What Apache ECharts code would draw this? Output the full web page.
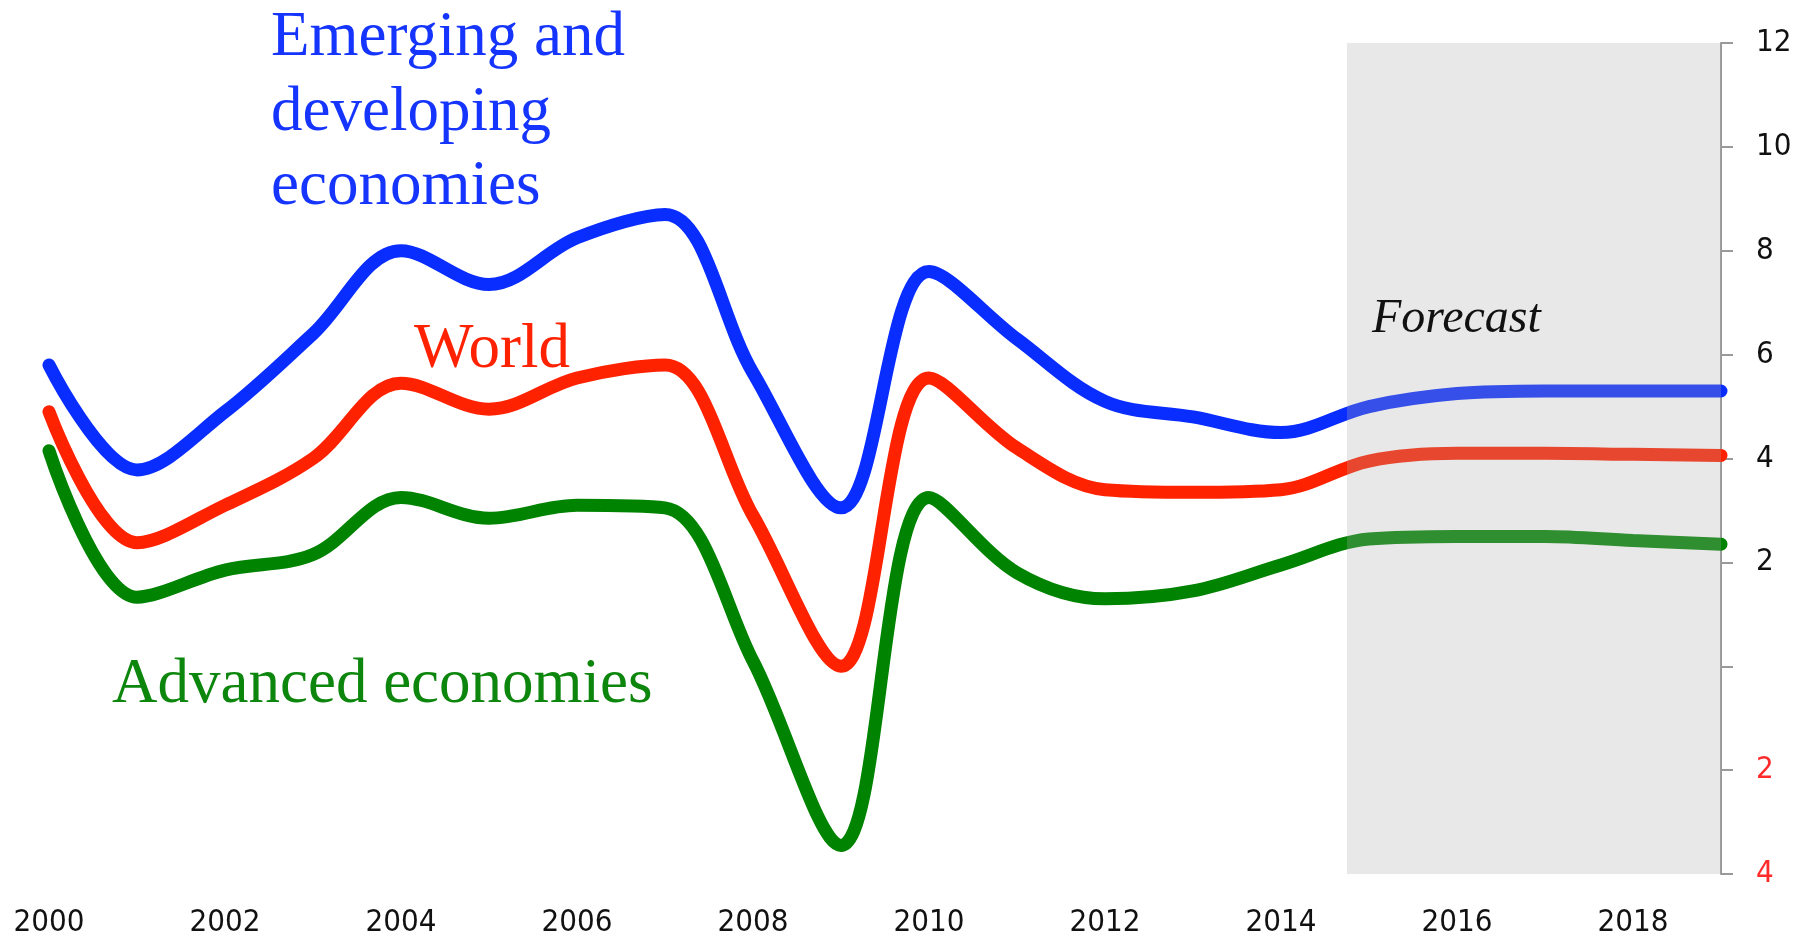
<!DOCTYPE html>
<html>
<head>
<meta charset="utf-8">
<script src="https://cdn.jsdelivr.net/npm/echarts@6/dist/echarts.min.js"></script>
<style>
  html, body { margin: 0; padding: 0; background: #fff; }
  #chart { width: 1808px; height: 942px; }
</style>
</head>
<body>
<div id="chart"></div>
<script>
// growth rates, %
const years = [2000, 2001, 2002, 2003, 2004, 2005, 2006, 2007, 2008, 2009,
               2010, 2011, 2012, 2013, 2014, 2015, 2016, 2017, 2018, 2019];
const emerging = [5.8, 3.78, 4.9, 6.4, 8.0, 7.35, 8.25, 8.7, 5.65, 3.05,
                  7.6, 6.3, 5.1, 4.8, 4.5, 5.0, 5.25, 5.3, 5.3, 5.3];
const world = [4.9, 2.38, 3.1, 4.0, 5.45, 4.95, 5.55, 5.8, 2.9, 0.0,
               5.55, 4.2, 3.4, 3.35, 3.4, 3.95, 4.1, 4.1, 4.08, 4.06];
const advanced = [4.15, 1.33, 1.85, 2.15, 3.25, 2.85, 3.1, 3.05, 0.1, -3.45,
                  3.25, 1.8, 1.3, 1.45, 1.95, 2.45, 2.5, 2.5, 2.42, 2.35];
const forecastStart = 2014.75;
const forecastEnd = 2019;

const sansNarrow = '"Liberation Sans Narrow", "DejaVu Sans Condensed", sans-serif';
const serif = '"Liberation Serif", "Times New Roman", serif';

function pairs(vals) {
  return years.map((y, i) => [y, vals[i]]);
}

function lineSeries(name, vals, color) {
  return {
    name: name,
    type: 'line',
    smooth: 0.35,
    showSymbol: false,
    z: 2,
    lineStyle: { color: color, width: 13, cap: 'round' },
    data: pairs(vals)
  };
}

const myChart = echarts.init(document.getElementById('chart'));

const option = {
  backgroundColor: '#fff',
  animation: false,
  grid: { left: 49, right: 87, top: 43, bottom: 68 },
  xAxis: {
    type: 'value',
    min: 2000,
    max: 2019,
    interval: 2,
    axisLine: { show: false },
    axisTick: { show: false },
    splitLine: { show: false },
    axisLabel: {
      margin: 33,
      color: '#111',
      fontFamily: sansNarrow,
      fontSize: 31,
      formatter: v => (v % 2 === 0 ? String(v) : '')
    }
  },
  yAxis: {
    type: 'value',
    position: 'right',
    min: -4,
    max: 12,
    interval: 2,
    splitLine: { show: false },
    axisLine: { show: true, lineStyle: { color: '#999', width: 2 } },
    axisTick: { show: true, length: 12, lineStyle: { color: '#999', width: 2 } },
    axisLabel: {
      margin: 35,
      fontFamily: sansNarrow,
      fontSize: 31,
      color: v => (v < 0 ? '#ff2a2a' : '#111'),
      formatter: v => (v === 0 ? '' : String(Math.abs(v)))
    }
  },
  series: [
    lineSeries('Emerging and developing economies', emerging, '#0a2dff'),
    lineSeries('World', world, '#ff2200'),
    lineSeries('Advanced economies', advanced, '#008300'),
    {
      // forecast shading, drawn over the lines
      type: 'line',
      data: [],
      z: 10,
      markArea: {
        silent: true,
        z: 10,
        itemStyle: { color: 'rgba(171,171,171,0.275)' },
        data: [[{ xAxis: forecastStart, yAxis: -4 }, { xAxis: forecastEnd, yAxis: 12 }]]
      }
    }
  ],
  graphic: [
    { type: 'text', z: 100, x: 271, y: 38,
      style: { text: 'Emerging and', font: '63px ' + serif, fill: '#1535ff', verticalAlign: 'middle' } },
    { type: 'text', z: 100, x: 271, y: 113,
      style: { text: 'developing', font: '63px ' + serif, fill: '#1535ff', verticalAlign: 'middle' } },
    { type: 'text', z: 100, x: 271, y: 187,
      style: { text: 'economies', font: '63px ' + serif, fill: '#1535ff', verticalAlign: 'middle' } },
    { type: 'text', z: 100, x: 414, y: 350,
      style: { text: 'World', font: '63px ' + serif, fill: '#ff2200', verticalAlign: 'middle' } },
    { type: 'text', z: 100, x: 112, y: 685,
      style: { text: 'Advanced economies', font: '63px ' + serif, fill: '#0d860d', verticalAlign: 'middle' } },
    { type: 'text', z: 100, x: 1372, y: 319,
      style: { text: 'Forecast', font: 'italic 48px ' + serif, fill: '#111', verticalAlign: 'middle' } }
  ]
};

myChart.setOption(option);
</script>
</body>
</html>
